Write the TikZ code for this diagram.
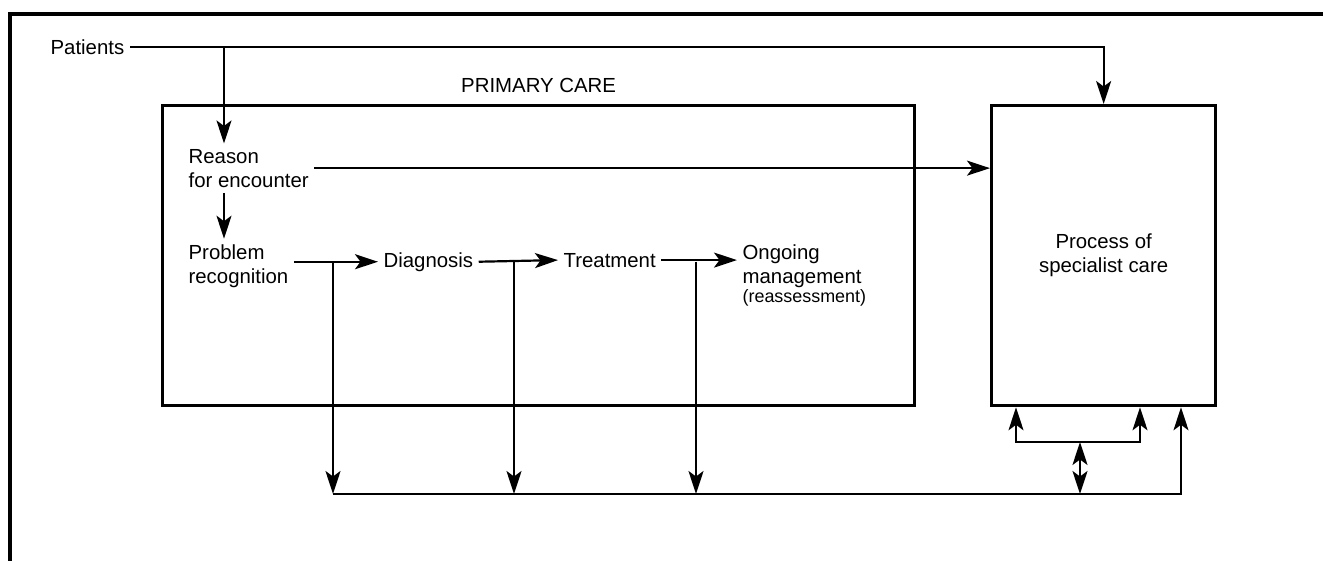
\documentclass[tikz,border=0pt]{standalone}
\usepackage{fontspec}
\setmainfont{Liberation Sans}
\usetikzlibrary{arrows.meta}

\begin{document}
\begin{tikzpicture}[x=0.02cm, y=-0.02cm,
	every node/.style={font=\fontsize{11.6}{13.6}\selectfont, inner sep=3pt},
	txt/.style={anchor=base west, align=left},
	box/.style={draw, line width=1.9pt, anchor=north west, minimum height=6cm},
	conn/.style={line width=1.25pt},
	arr/.style={conn, -{Stealth[length=0.46cm, width=0.3cm, inset=0.11cm]}},
	darr/.style={conn, {Stealth[length=0.46cm, width=0.3cm, inset=0.11cm]}-{Stealth[length=0.46cm, width=0.3cm, inset=0.11cm]}}]
	\useasboundingbox (0, 0) rectangle (1323, 561);
	\draw[line width=1.9pt] (1330, 14) -- (10, 14) -- (10, 570);

	% boxes
	\node[box, minimum width=15.04cm,
		label={[label distance=3pt]above:PRIMARY CARE}] (primary) at (161, 104) {};
	\node[box, minimum width=4.48cm, align=center] (special) at (990, 104) {Process of\\specialist care};

	% steps of primary care
	\node[txt] (patients) at (45, 54) {Patients};
	\node[txt] (reason) at (183, 187) {Reason\\for encounter};
	\node[txt] (problem) at (183, 283) {Problem\\recognition};
	\node[txt] (diagnosis) at (378, 267) {Diagnosis};
	\node[txt] (treatment) at (558, 267) {Treatment};
	\node[txt] (ongoing) at (737, 302) {Ongoing\\management\\[-2.8pt]{\fontsize{10.2}{12}\selectfont(reassessment)}};

	\coordinate (col) at (224, 0);
	\coordinate (b1) at (333, 494);
	\coordinate (b2) at (514, 494);
	\coordinate (b3) at (696, 494);
	\coordinate (m) at (1080, 494);
	\coordinate (b4) at (1181, 494);
	\coordinate (k1) at (1016, 442);
	\coordinate (k2) at (1140, 442);

	\draw[arr] (patients.east) -| (special.north);
	\draw[arr] (patients.east -| col) -- (reason.north -| col);
	\draw[arr] (reason.south -| col) -- (problem.north -| col);
	\draw[arr] (reason.east) -- (reason.east -| special.west);

	\draw[arr] (problem.east |- diagnosis) -- (diagnosis.west);
	\draw[arr] (diagnosis.east) -- (treatment.west);
	\draw[arr] (treatment.east) -- (treatment.east -| ongoing.west);

	% feedback to specialist care
	\draw[arr] (b1 |- diagnosis) -- (b1);
	\draw[arr] (b2 |- diagnosis) -- (b2);
	\draw[arr] (b3 |- diagnosis) -- (b3);
	\draw[arr] (b1) -- (b4) -- (b4 |- special.south);
	\draw[arr] (k1 -| m) -- (k1) -- (special.south -| k1);
	\draw[arr] (k1 -| m) -- (k2) -- (special.south -| k2);
	\draw[darr] (k1 -| m) -- (m);
\end{tikzpicture}
\end{document}
